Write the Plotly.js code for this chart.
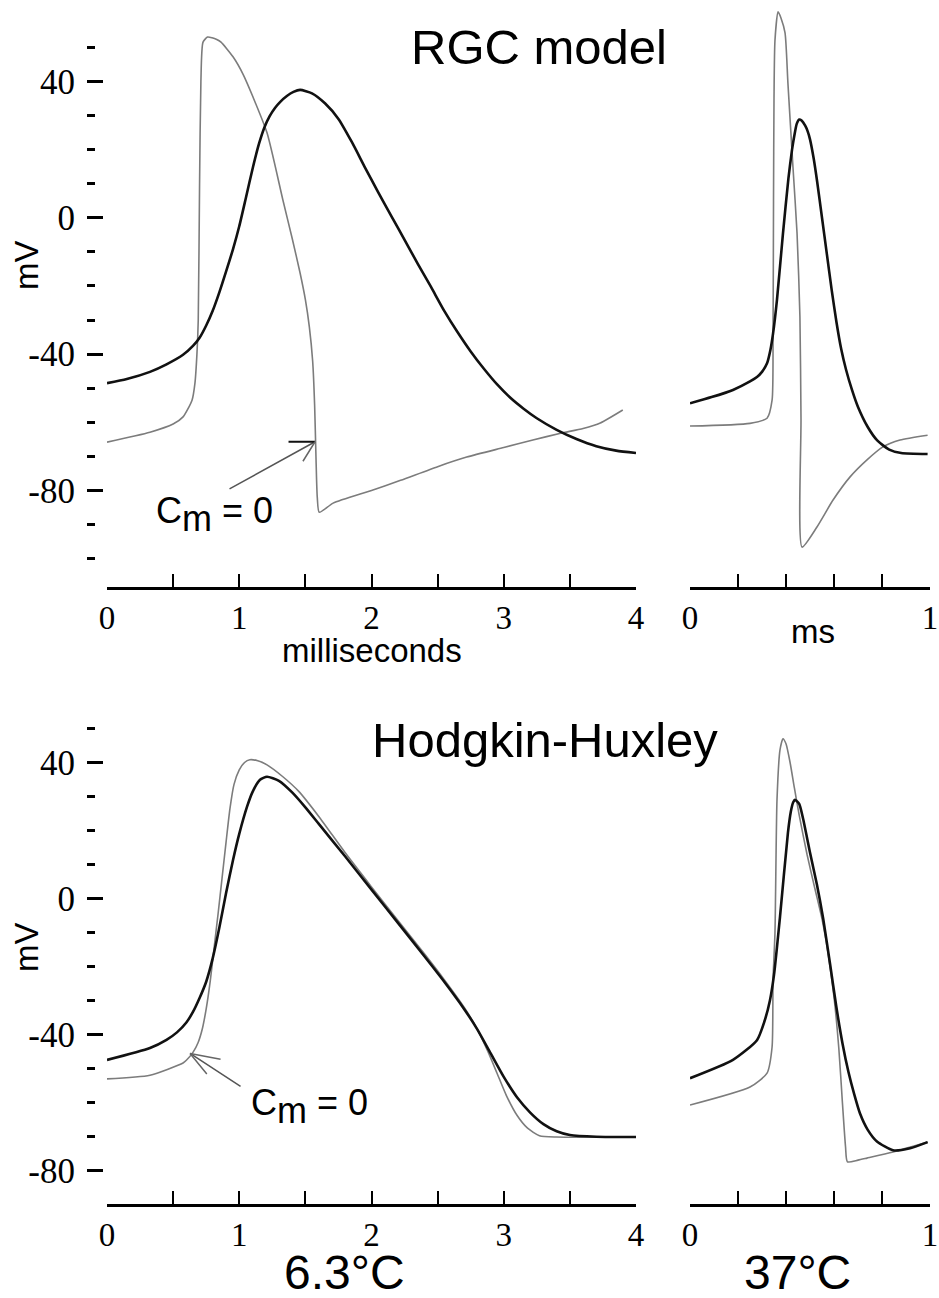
<!DOCTYPE html>
<html>
<head>
<meta charset="utf-8">
<script src="https://cdn.plot.ly/plotly-3.0.1.min.js"></script>
<style>html,body{margin:0;padding:0;background:#fff;}#chart{width:939px;height:1298px;}</style>
</head>
<body>
<div id="chart"></div>
<script>
// ---------- data (time in ms, membrane potential in mV) ----------
// RGC model, 6.3 C panel (top left)
const rgcSlowT      = [0, 0.15, 0.325, 0.45, 0.575, 0.65, 0.70, 0.75, 0.80, 0.85, 0.90, 0.953, 1.00, 1.05, 1.104, 1.15, 1.19, 1.23, 1.27, 1.31, 1.36, 1.41, 1.46, 1.55, 1.65, 1.75, 1.85, 1.95, 2.05, 2.15, 2.25, 2.35, 2.45, 2.55, 2.65, 2.75, 2.85, 2.95, 3.05, 3.15, 3.25, 3.4, 3.55, 3.7, 3.85, 4.0];
const rgcSlowV      = [-48.5, -47.3, -45.2, -43.0, -40.2, -37.6, -35.2, -31.6, -27.2, -21.8, -15.8, -9.2, -2.5, 5.8, 14.9, 21.8, 26.5, 29.8, 32.2, 34.0, 35.7, 36.9, 37.5, 36.5, 33.5, 29.0, 22.3, 14.8, 7.5, 0.5, -6.5, -13.5, -20.3, -27.3, -33.5, -39.2, -44.3, -48.9, -52.8, -56.0, -58.8, -62.2, -64.9, -67.0, -68.3, -69.0];
const rgcSlowCm0T   = [0, 0.325, 0.5, 0.575, 0.643, 0.665, 0.68, 0.69, 0.70, 0.71, 0.726, 0.76, 0.794, 0.83, 0.862, 0.953, 1.03, 1.104, 1.21, 1.33, 1.40, 1.46, 1.50, 1.53, 1.555, 1.57, 1.58, 1.59, 1.605, 1.71, 2.0, 2.22, 2.5, 2.72, 3.0, 3.22, 3.43, 3.6, 3.73, 3.9];
const rgcSlowCm0V   = [-65.8, -62.9, -60.5, -58.4, -53.5, -48.5, -40, -30, 10, 40, 51.5, 53, 52.8, 52.3, 51.5, 47.2, 42, 35.4, 24.9, 5.2, -6, -16.2, -24, -32, -42, -55, -70, -82, -86.4, -83.7, -80, -77, -73, -70.2, -67.4, -65.2, -63.2, -61.8, -60.2, -56.4];
// RGC model, 37 C panel (top right)
const rgcFastT      = [0, 0.09, 0.179, 0.25, 0.279, 0.30, 0.321, 0.335, 0.346, 0.3625, 0.3875, 0.41, 0.425, 0.435, 0.445, 0.455, 0.465, 0.48, 0.49, 0.50, 0.515, 0.53, 0.55, 0.57, 0.59, 0.61, 0.63, 0.65, 0.675, 0.70, 0.74, 0.78, 0.83, 0.88, 0.99];
const rgcFastV      = [-54.4, -52.6, -50.5, -48, -46.7, -45.2, -42.7, -38.8, -34, -24, -4.5, 11.5, 19.9, 24.2, 27.6, 28.8, 28.5, 27, 25.4, 23, 17.5, 10.5, 0, -10.5, -21, -30.5, -38.5, -44.5, -50.5, -55.5, -61.3, -65.3, -68.0, -69, -69.3];
const rgcFastCm0T   = [0, 0.25, 0.321, 0.342, 0.346, 0.348, 0.35, 0.354, 0.367, 0.379, 0.396, 0.408, 0.429, 0.446, 0.458, 0.4625, 0.467, 0.529, 0.596, 0.667, 0.7375, 0.804, 0.875, 0.99];
const rgcFastCm0V   = [-61.1, -60.3, -58.8, -53.5, -34, 5, 34.6, 52, 60.4, 58.6, 54.2, 39.5, 14.9, -4.5, -29, -59, -96.6, -90.7, -82.8, -76, -71, -67.2, -65.2, -63.8];
// Hodgkin-Huxley, 6.3 C panel (bottom left)
const hhSlowT       = [0, 0.325, 0.45, 0.529, 0.60, 0.65, 0.70, 0.75, 0.80, 0.85, 0.90, 0.953, 1.00, 1.059, 1.10, 1.157, 1.21, 1.30, 1.40, 1.50, 1.60, 1.80, 2.0, 2.2, 2.4, 2.55, 2.7, 2.8, 2.9, 3.0, 3.1, 3.2, 3.3, 3.4, 3.5, 3.7, 4.0];
const hhSlowV       = [-47.5, -44, -41.6, -39.4, -36.5, -33.4, -29.3, -24.5, -17.5, -8.5, 1.5, 11.3, 19.0, 27, 31.3, 34.9, 35.8, 34.6, 31.2, 26.8, 22.0, 12.4, 2.6, -7.2, -17.0, -24.5, -32.5, -38.5, -45.5, -52.5, -58.5, -63.0, -66.4, -68.5, -69.6, -70.1, -70.2];
const hhSlowCm0T    = [0, 0.325, 0.575, 0.60, 0.65, 0.69, 0.72, 0.75, 0.78, 0.81, 0.84, 0.87, 0.90, 0.93, 0.96, 1.00, 1.04, 1.08, 1.14, 1.21, 1.33, 1.45, 1.6, 1.8, 2.0, 2.2, 2.4, 2.55, 2.7, 2.8, 2.88, 2.95, 3.02, 3.1, 3.18, 3.27, 3.4, 4.0];
const hhSlowCm0V    = [-53.1, -52, -48.4, -47.6, -45.3, -42.3, -38.5, -32.5, -24.5, -14.5, -4.5, 6, 16.5, 26.5, 33.5, 37.8, 40, 40.8, 40.5, 39.3, 35.8, 31.5, 24.2, 13.5, 3.4, -6.5, -16.3, -23.9, -32.0, -38.5, -45, -51.5, -58, -63.8, -67.6, -69.8, -70.2, -70.2];
// Hodgkin-Huxley, 37 C panel (bottom right)
const hhFastT       = [0, 0.179, 0.279, 0.31, 0.333, 0.35, 0.375, 0.408, 0.42, 0.43, 0.4375, 0.455, 0.471, 0.50, 0.529, 0.555, 0.583, 0.61, 0.635, 0.66, 0.685, 0.708, 0.74, 0.779, 0.846, 0.917, 0.99];
const hhFastV       = [-52.9, -47.5, -41.7, -36.2, -30, -22.5, -5.4, 19.3, 25.5, 28.3, 29, 27.8, 23.5, 13.5, 4.0, -6, -19, -32, -42.5, -51, -57.8, -63.2, -68, -71.5, -74.1, -73.5, -71.7];
const hhFastCm0T    = [0, 0.25, 0.321, 0.342, 0.346, 0.354, 0.3625, 0.375, 0.3875, 0.40, 0.417, 0.435, 0.455, 0.4875, 0.52, 0.55, 0.575, 0.60, 0.62, 0.635, 0.648, 0.656, 0.70, 0.7375, 0.846, 0.99];
const hhFastCm0V    = [-60.8, -55.5, -51.4, -43.7, -24, -10.2, 29, 43.7, 47, 45.5, 40, 32.5, 24.5, 13, 3, -6, -16, -29, -44, -60, -73, -77.5, -77, -76.4, -74.6, -71.7];

const msTicks   = [0, 0.5, 1, 1.5, 2, 2.5, 3, 3.5, 4];
const msText    = ['0', '', '1', '', '2', '', '3', '', '4'];
const fastTicks = [0, 0.2, 0.4, 0.6, 0.8, 1];
const fastText  = ['0', '', '', '', '', '1'];
const mvMajor   = [-80, -40, 0, 40];
const mvMinorTop    = [-100, -90, -70, -60, -50, -30, -20, -10, 10, 20, 30, 50];
const mvMinorBottom = [-70, -60, -50, -30, -20, -10, 10, 20, 30, 50];

// ---------- layout helpers ----------
const W = 939, H = 1298;
const px = x => x / W;
const py = y => 1 - y / H;

const BLACK = {color: '#111', width: 2.6};
const GRAY  = {color: '#7c7c7c', width: 1.6};

function tr(x, y, xa, ya, line) {
  return {x: x, y: y, xaxis: xa, yaxis: ya, type: 'scatter', mode: 'lines',
          line: Object.assign({shape: 'spline', smoothing: 0.6}, line), hoverinfo: 'skip', showlegend: false};
}

const data = [
  tr(rgcSlowCm0T, rgcSlowCm0V, 'x', 'y', GRAY),
  tr(rgcSlowT, rgcSlowV, 'x', 'y', BLACK),
  tr(rgcFastCm0T, rgcFastCm0V, 'x2', 'y2', GRAY),
  tr(rgcFastT, rgcFastV, 'x2', 'y2', BLACK),
  tr(hhSlowCm0T, hhSlowCm0V, 'x3', 'y3', GRAY),
  tr(hhSlowT, hhSlowV, 'x3', 'y3', BLACK),
  tr(hhFastCm0T, hhFastCm0V, 'x4', 'y4', GRAY),
  tr(hhFastT, hhFastV, 'x4', 'y4', BLACK)
];

const tickFontX = {family: 'Liberation Serif, Times New Roman, serif', size: 33, color: '#000'};
const tickFontY = {family: 'Liberation Serif, Times New Roman, serif', size: 35, color: '#000'};

function xax(domain, range, anchor, vals, text) {
  return {domain: domain, range: range, anchor: anchor, showline: true, linecolor: '#000', linewidth: 2.5,
          ticks: 'inside', ticklen: 13, tickwidth: 2, tickcolor: '#000', tickmode: 'array',
          tickvals: vals, ticktext: text, tickfont: tickFontX, showgrid: false, zeroline: false, fixedrange: true};
}
function yax(domain, range, minor) {
  return {domain: domain, range: range, anchor: 'free', position: px(86), side: 'left', showline: false,
          ticks: 'inside', ticklen: 16, tickwidth: 3, tickcolor: '#000', tickmode: 'array',
          tickvals: mvMajor, ticktext: mvMajor.map(String), tickfont: tickFontY, ticklabelstandoff: 11,
          minor: {tickmode: 'array', tickvals: minor, ticks: 'inside', ticklen: 8, tickwidth: 3, tickcolor: '#000', showgrid: false},
          showgrid: false, zeroline: false, fixedrange: true};
}
function yhidden(domain, range) {
  return {domain: domain, range: range, visible: false, fixedrange: true};
}

const topDom = [py(587), py(5)], topRange = [-108.3, 62.4];
const botDom = [py(1204), py(720)], botRange = [-89.9, 52.5];
const leftDom = [px(107), px(636)], rightDom = [px(690), px(930)];

const sans = 'Liberation Sans, Arial, sans-serif';
function lab(text, x, y, size, extra) {
  return Object.assign({text: text, x: px(x), y: py(y), xref: 'paper', yref: 'paper', showarrow: false,
          xanchor: 'center', yanchor: 'middle', font: {family: sans, size: size, color: '#000'}}, extra || {});
}
function seg(x, y, xref, yref, ax, ay, color, width) {
  return {text: '', x: x, y: y, xref: xref, yref: yref, ax: ax, ay: ay, showarrow: true, arrowhead: 0,
          arrowwidth: width, arrowcolor: color, standoff: 0, startstandoff: 0};
}

const cm0 = 'C<sub><span style="font-size:36px">m</span></sub> = 0';

const annotations = [
  lab('RGC model', 539, 47, 49),
  lab('Hodgkin-Huxley', 545, 740, 49),
  lab('milliseconds', 372, 650, 33),
  lab('ms', 813, 631, 33),
  lab('6.3°C', 344, 1272, 48),
  lab('37°C', 797, 1272, 48),
  lab('mV', 26, 265, 33, {textangle: -90}),
  lab('mV', 26, 947, 33, {textangle: -90}),
  lab(cm0, 154, 514, 36, {xanchor: 'left'}),
  lab(cm0, 249, 1106, 36, {xanchor: 'left'}),
  // arrow toward the Cm = 0 trace, top panel
  seg(1.573, -65.7, 'x', 'y', -87, 48, '#555', 1.5),
  seg(1.573, -65.7, 'x', 'y', -28, 0, '#111', 2),
  seg(1.573, -65.7, 'x', 'y', -13, 21, '#666', 1.5),
  // arrow toward the Cm = 0 trace, bottom panel
  seg(0.628, -45.6, 'x3', 'y3', 52, 34, '#555', 1.5),
  seg(0.628, -45.6, 'x3', 'y3', 32, 6, '#666', 1.5),
  seg(0.628, -45.6, 'x3', 'y3', 18, 22, '#666', 1.5)
];

const layout = {
  width: W, height: H, margin: {l: 0, r: 0, t: 0, b: 0, pad: 0},
  paper_bgcolor: '#fff', plot_bgcolor: 'rgba(0,0,0,0)', showlegend: false,
  font: {family: sans, color: '#000'},
  xaxis:  xax(leftDom, [0, 4], 'y', msTicks, msText),
  yaxis:  yax(topDom, topRange, mvMinorTop),
  xaxis2: xax(rightDom, [0, 1], 'y2', fastTicks, fastText),
  yaxis2: yhidden(topDom, topRange),
  xaxis3: xax(leftDom, [0, 4], 'y3', msTicks, msText),
  yaxis3: yax(botDom, botRange, mvMinorBottom),
  xaxis4: xax(rightDom, [0, 1], 'y4', fastTicks, fastText),
  yaxis4: yhidden(botDom, botRange),
  annotations: annotations
};

Plotly.newPlot('chart', data, layout, {staticPlot: true, displayModeBar: false});
</script>
</body>
</html>
